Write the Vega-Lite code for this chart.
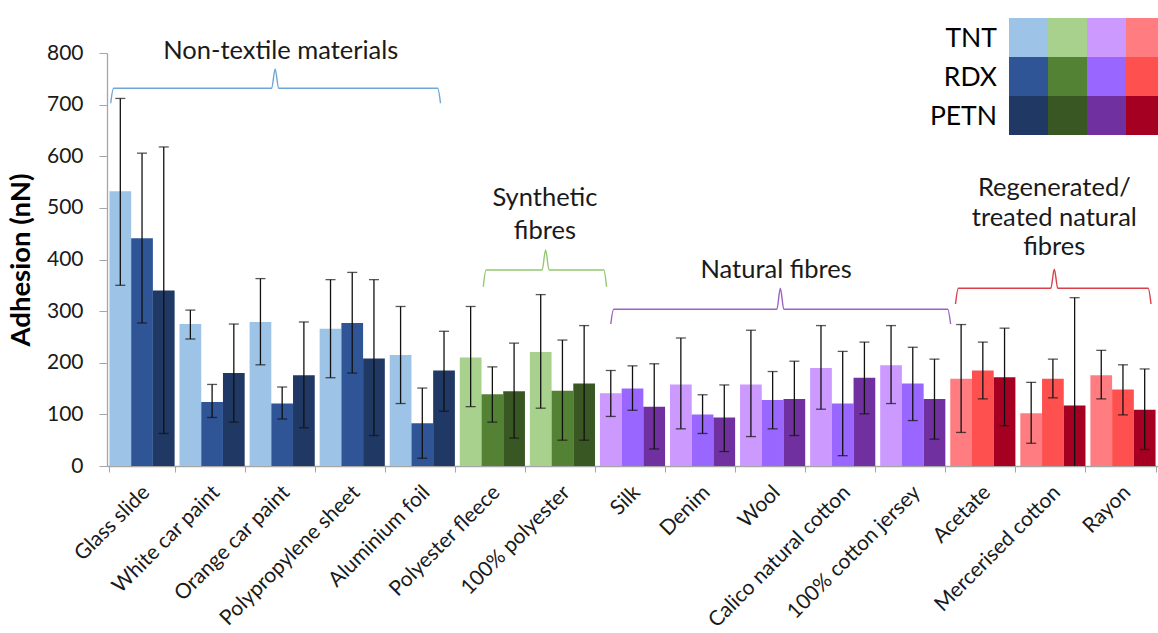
{
  "$schema": "https://vega.github.io/schema/vega-lite/v6.json",
  "width": 1051,
  "height": 413,
  "autosize": {"type": "none"},
  "padding": {"left": 107, "top": 53, "right": 0, "bottom": 167},
  "background": "white",
  "config": {"view": {"stroke": null}, "font": "Lato"},
  "datasets": {
    "bars": [
      {"m": "Glass slide", "e": "TNT", "s": "Non-textile TNT", "mean": 532, "low": 350, "high": 712},
      {"m": "Glass slide", "e": "RDX", "s": "Non-textile RDX", "mean": 441, "low": 277, "high": 606},
      {"m": "Glass slide", "e": "PETN", "s": "Non-textile PETN", "mean": 340, "low": 63, "high": 618},
      {"m": "White car paint", "e": "TNT", "s": "Non-textile TNT", "mean": 275, "low": 246, "high": 302},
      {"m": "White car paint", "e": "RDX", "s": "Non-textile RDX", "mean": 124, "low": 94, "high": 158},
      {"m": "White car paint", "e": "PETN", "s": "Non-textile PETN", "mean": 180, "low": 85, "high": 275},
      {"m": "Orange car paint", "e": "TNT", "s": "Non-textile TNT", "mean": 279, "low": 196, "high": 363},
      {"m": "Orange car paint", "e": "RDX", "s": "Non-textile RDX", "mean": 121, "low": 91, "high": 153},
      {"m": "Orange car paint", "e": "PETN", "s": "Non-textile PETN", "mean": 176, "low": 74, "high": 279},
      {"m": "Polypropylene sheet", "e": "TNT", "s": "Non-textile TNT", "mean": 266, "low": 171, "high": 361},
      {"m": "Polypropylene sheet", "e": "RDX", "s": "Non-textile RDX", "mean": 277, "low": 180, "high": 375},
      {"m": "Polypropylene sheet", "e": "PETN", "s": "Non-textile PETN", "mean": 208, "low": 59, "high": 361},
      {"m": "Aluminium foil", "e": "TNT", "s": "Non-textile TNT", "mean": 215, "low": 121, "high": 309},
      {"m": "Aluminium foil", "e": "RDX", "s": "Non-textile RDX", "mean": 83, "low": 15, "high": 151},
      {"m": "Aluminium foil", "e": "PETN", "s": "Non-textile PETN", "mean": 185, "low": 106, "high": 261},
      {"m": "Polyester fleece", "e": "TNT", "s": "Synthetic TNT", "mean": 210, "low": 115, "high": 309},
      {"m": "Polyester fleece", "e": "RDX", "s": "Synthetic RDX", "mean": 139, "low": 85, "high": 192},
      {"m": "Polyester fleece", "e": "PETN", "s": "Synthetic PETN", "mean": 145, "low": 54, "high": 238},
      {"m": "100% polyester", "e": "TNT", "s": "Synthetic TNT", "mean": 221, "low": 112, "high": 332},
      {"m": "100% polyester", "e": "RDX", "s": "Synthetic RDX", "mean": 146, "low": 50, "high": 244},
      {"m": "100% polyester", "e": "PETN", "s": "Synthetic PETN", "mean": 160, "low": 50, "high": 272},
      {"m": "Silk", "e": "TNT", "s": "Natural TNT", "mean": 141, "low": 96, "high": 185},
      {"m": "Silk", "e": "RDX", "s": "Natural RDX", "mean": 150, "low": 108, "high": 194},
      {"m": "Silk", "e": "PETN", "s": "Natural PETN", "mean": 115, "low": 33, "high": 198},
      {"m": "Denim", "e": "TNT", "s": "Natural TNT", "mean": 158, "low": 72, "high": 248},
      {"m": "Denim", "e": "RDX", "s": "Natural RDX", "mean": 100, "low": 63, "high": 138},
      {"m": "Denim", "e": "PETN", "s": "Natural PETN", "mean": 94, "low": 28, "high": 157},
      {"m": "Wool", "e": "TNT", "s": "Natural TNT", "mean": 158, "low": 57, "high": 263},
      {"m": "Wool", "e": "RDX", "s": "Natural RDX", "mean": 128, "low": 72, "high": 183},
      {"m": "Wool", "e": "PETN", "s": "Natural PETN", "mean": 130, "low": 59, "high": 203},
      {"m": "Calico natural cotton", "e": "TNT", "s": "Natural TNT", "mean": 190, "low": 110, "high": 272},
      {"m": "Calico natural cotton", "e": "RDX", "s": "Natural RDX", "mean": 121, "low": 20, "high": 222},
      {"m": "Calico natural cotton", "e": "PETN", "s": "Natural PETN", "mean": 171, "low": 101, "high": 240},
      {"m": "100% cotton jersey", "e": "TNT", "s": "Natural TNT", "mean": 195, "low": 121, "high": 272},
      {"m": "100% cotton jersey", "e": "RDX", "s": "Natural RDX", "mean": 160, "low": 88, "high": 230},
      {"m": "100% cotton jersey", "e": "PETN", "s": "Natural PETN", "mean": 130, "low": 52, "high": 207},
      {"m": "Acetate", "e": "TNT", "s": "Regenerated TNT", "mean": 169, "low": 65, "high": 274},
      {"m": "Acetate", "e": "RDX", "s": "Regenerated RDX", "mean": 185, "low": 130, "high": 240},
      {"m": "Acetate", "e": "PETN", "s": "Regenerated PETN", "mean": 172, "low": 78, "high": 267},
      {"m": "Mercerised cotton", "e": "TNT", "s": "Regenerated TNT", "mean": 102, "low": 44, "high": 162},
      {"m": "Mercerised cotton", "e": "RDX", "s": "Regenerated RDX", "mean": 169, "low": 132, "high": 207},
      {"m": "Mercerised cotton", "e": "PETN", "s": "Regenerated PETN", "mean": 117, "low": -92, "high": 326},
      {"m": "Rayon", "e": "TNT", "s": "Regenerated TNT", "mean": 176, "low": 130, "high": 224},
      {"m": "Rayon", "e": "RDX", "s": "Regenerated RDX", "mean": 148, "low": 99, "high": 196},
      {"m": "Rayon", "e": "PETN", "s": "Regenerated PETN", "mean": 109, "low": 32, "high": 188}
    ],
    "braces": [
      {"g": "Non-textile", "pos": 0.053, "val": 702.6},
      {"g": "Non-textile", "pos": 0.093, "val": 731.6},
      {"g": "Non-textile", "pos": 2.35, "val": 731.6},
      {"g": "Non-textile", "pos": 2.40, "val": 769},
      {"g": "Non-textile", "pos": 2.45, "val": 731.6},
      {"g": "Non-textile", "pos": 4.72, "val": 731.6},
      {"g": "Non-textile", "pos": 4.76, "val": 702.6},
      {"g": "Synthetic", "pos": 5.37, "val": 347.3},
      {"g": "Synthetic", "pos": 5.41, "val": 379.7},
      {"g": "Synthetic", "pos": 6.21, "val": 379.7},
      {"g": "Synthetic", "pos": 6.26, "val": 418.4},
      {"g": "Synthetic", "pos": 6.31, "val": 379.7},
      {"g": "Synthetic", "pos": 7.09, "val": 379.7},
      {"g": "Synthetic", "pos": 7.13, "val": 347.3},
      {"g": "Natural", "pos": 7.19, "val": 275},
      {"g": "Natural", "pos": 7.23, "val": 303.5},
      {"g": "Natural", "pos": 9.56, "val": 303.5},
      {"g": "Natural", "pos": 9.61, "val": 344.2},
      {"g": "Natural", "pos": 9.66, "val": 303.5},
      {"g": "Natural", "pos": 12.00, "val": 303.5},
      {"g": "Natural", "pos": 12.04, "val": 275},
      {"g": "Regenerated", "pos": 12.11, "val": 313.8},
      {"g": "Regenerated", "pos": 12.15, "val": 344.2},
      {"g": "Regenerated", "pos": 13.47, "val": 344.2},
      {"g": "Regenerated", "pos": 13.52, "val": 381},
      {"g": "Regenerated", "pos": 13.57, "val": 344.2},
      {"g": "Regenerated", "pos": 14.86, "val": 344.2},
      {"g": "Regenerated", "pos": 14.90, "val": 313.8}
    ],
    "labels": [
      {"t": "Non-textile materials", "pos": 2.48, "val": 787.8},
      {"t": "Synthetic", "pos": 6.25, "val": 503.6},
      {"t": "fibres", "pos": 6.25, "val": 439.1},
      {"t": "Natural fibres", "pos": 9.55, "val": 364.8},
      {"t": "Regenerated/", "pos": 13.52, "val": 523},
      {"t": "treated natural", "pos": 13.52, "val": 464.9},
      {"t": "fibres", "pos": 13.52, "val": 408.7}
    ],
    "legend": [
      {"g": "Non-textile", "e": "TNT", "s": "Non-textile TNT"},
      {"g": "Non-textile", "e": "RDX", "s": "Non-textile RDX"},
      {"g": "Non-textile", "e": "PETN", "s": "Non-textile PETN"},
      {"g": "Synthetic", "e": "TNT", "s": "Synthetic TNT"},
      {"g": "Synthetic", "e": "RDX", "s": "Synthetic RDX"},
      {"g": "Synthetic", "e": "PETN", "s": "Synthetic PETN"},
      {"g": "Natural", "e": "TNT", "s": "Natural TNT"},
      {"g": "Natural", "e": "RDX", "s": "Natural RDX"},
      {"g": "Natural", "e": "PETN", "s": "Natural PETN"},
      {"g": "Regenerated", "e": "TNT", "s": "Regenerated TNT"},
      {"g": "Regenerated", "e": "RDX", "s": "Regenerated RDX"},
      {"g": "Regenerated", "e": "PETN", "s": "Regenerated PETN"}
    ]
  },
  "resolve": {"scale": {"x": "independent", "y": "independent"}},
  "layer": [
    {
      "data": {"name": "bars"},
      "encoding": {
        "x": {
          "field": "m", "type": "nominal", "sort": null,
          "scale": {"paddingInner": 0.07, "paddingOuter": 0.035},
          "axis": {
            "title": null, "labelAngle": -45, "labelFontSize": 21, "labelLimit": 400,
            "labelColor": "#1a1a1a", "labelPadding": 17, "labelOffset": 4, "tickBand": "extent", "tickSize": 6,
            "tickColor": "#A6A6A6", "domainColor": "#A6A6A6", "domainWidth": 1.3, "labelAlign": "right", "labelBaseline": "middle"
          }
        },
        "xOffset": {"field": "e", "type": "nominal", "sort": ["TNT", "RDX", "PETN"], "scale": {"paddingInner": 0, "paddingOuter": 0}}
      },
      "layer": [
        {
          "mark": {"type": "bar"},
          "encoding": {
            "y": {
              "field": "mean", "type": "quantitative",
              "scale": {"domain": [0, 800], "nice": false},
              "axis": {
                "values": [0, 100, 200, 300, 400, 500, 600, 700, 800], "grid": false,
                "labelFontSize": 21, "labelColor": "#1a1a1a", "labelPadding": 16, "tickSize": 8,
                "tickColor": "#A6A6A6", "domainColor": "#A6A6A6", "domainWidth": 1.3,
                "title": "Adhesion (nN)", "titleFontSize": 27.5, "titleFontWeight": "bold", "titleColor": "#000000", "titlePadding": 11
              }
            },
            "color": {
              "field": "s", "type": "nominal", "legend": null,
              "scale": {
                "domain": ["Non-textile TNT", "Non-textile RDX", "Non-textile PETN", "Synthetic TNT", "Synthetic RDX", "Synthetic PETN", "Natural TNT", "Natural RDX", "Natural PETN", "Regenerated TNT", "Regenerated RDX", "Regenerated PETN"],
                "range": ["#9DC3E6", "#2F5597", "#203864", "#A9D18E", "#548235", "#385723", "#CC99FF", "#9966FF", "#7030A0", "#FF7C80", "#FF5050", "#A50021"]
              }
            }
          }
        },
        {
          "mark": {"type": "rule", "clip": true, "color": "#111111", "strokeWidth": 1.3},
          "encoding": {"y": {"field": "low", "type": "quantitative"}, "y2": {"field": "high"}}
        },
        {
          "mark": {"type": "tick", "clip": true, "color": "#111111", "thickness": 1.3, "size": 10},
          "encoding": {"y": {"field": "high", "type": "quantitative"}}
        },
        {
          "mark": {"type": "tick", "clip": true, "color": "#111111", "thickness": 1.3, "size": 10},
          "encoding": {"y": {"field": "low", "type": "quantitative"}}
        }
      ]
    },
    {
      "encoding": {
        "x": {"field": "pos", "type": "quantitative", "scale": {"domain": [0, 15], "nice": false, "zero": false}, "axis": null},
        "y": {"field": "val", "type": "quantitative", "scale": {"domain": [0, 800], "nice": false}, "axis": null}
      },
      "layer": [
        {
          "data": {"name": "braces"},
          "mark": {"type": "line", "interpolate": "monotone", "strokeWidth": 1.4},
          "encoding": {
            "stroke": {
              "field": "g", "type": "nominal", "legend": null,
              "scale": {"domain": ["Non-textile", "Synthetic", "Natural", "Regenerated"], "range": ["#6FA6DA", "#93C873", "#9A64C6", "#D9404A"]}
            }
          }
        },
        {
          "data": {"name": "labels"},
          "mark": {"type": "text", "fontSize": 25.5, "align": "center", "baseline": "alphabetic", "color": "#1a1a1a"},
          "encoding": {"text": {"field": "t"}}
        }
      ]
    },
    {
      "data": {"name": "legend"},
      "encoding": {
        "y": {"field": "e", "type": "nominal", "sort": ["TNT", "RDX", "PETN"], "scale": {"range": [-35, 82], "paddingInner": 0, "paddingOuter": 0}, "axis": null}
      },
      "layer": [
        {
          "mark": {"type": "rect"},
          "encoding": {
            "x": {"field": "g", "type": "nominal", "sort": ["Non-textile", "Synthetic", "Natural", "Regenerated"], "scale": {"range": [902, 1058], "paddingInner": 0, "paddingOuter": 0}, "axis": null},
            "color": {"field": "s", "type": "nominal", "legend": null}
          }
        },
        {
          "transform": [{"filter": "datum.g === 'Non-textile'"}],
          "mark": {"type": "text", "fontSize": 26.5, "align": "right", "baseline": "middle", "dx": -12, "dy": 1, "color": "#000000"},
          "encoding": {
            "x": {"datum": "Non-textile", "type": "nominal", "bandPosition": 0},
            "text": {"field": "e"}
          }
        }
      ]
    }
  ]
}
